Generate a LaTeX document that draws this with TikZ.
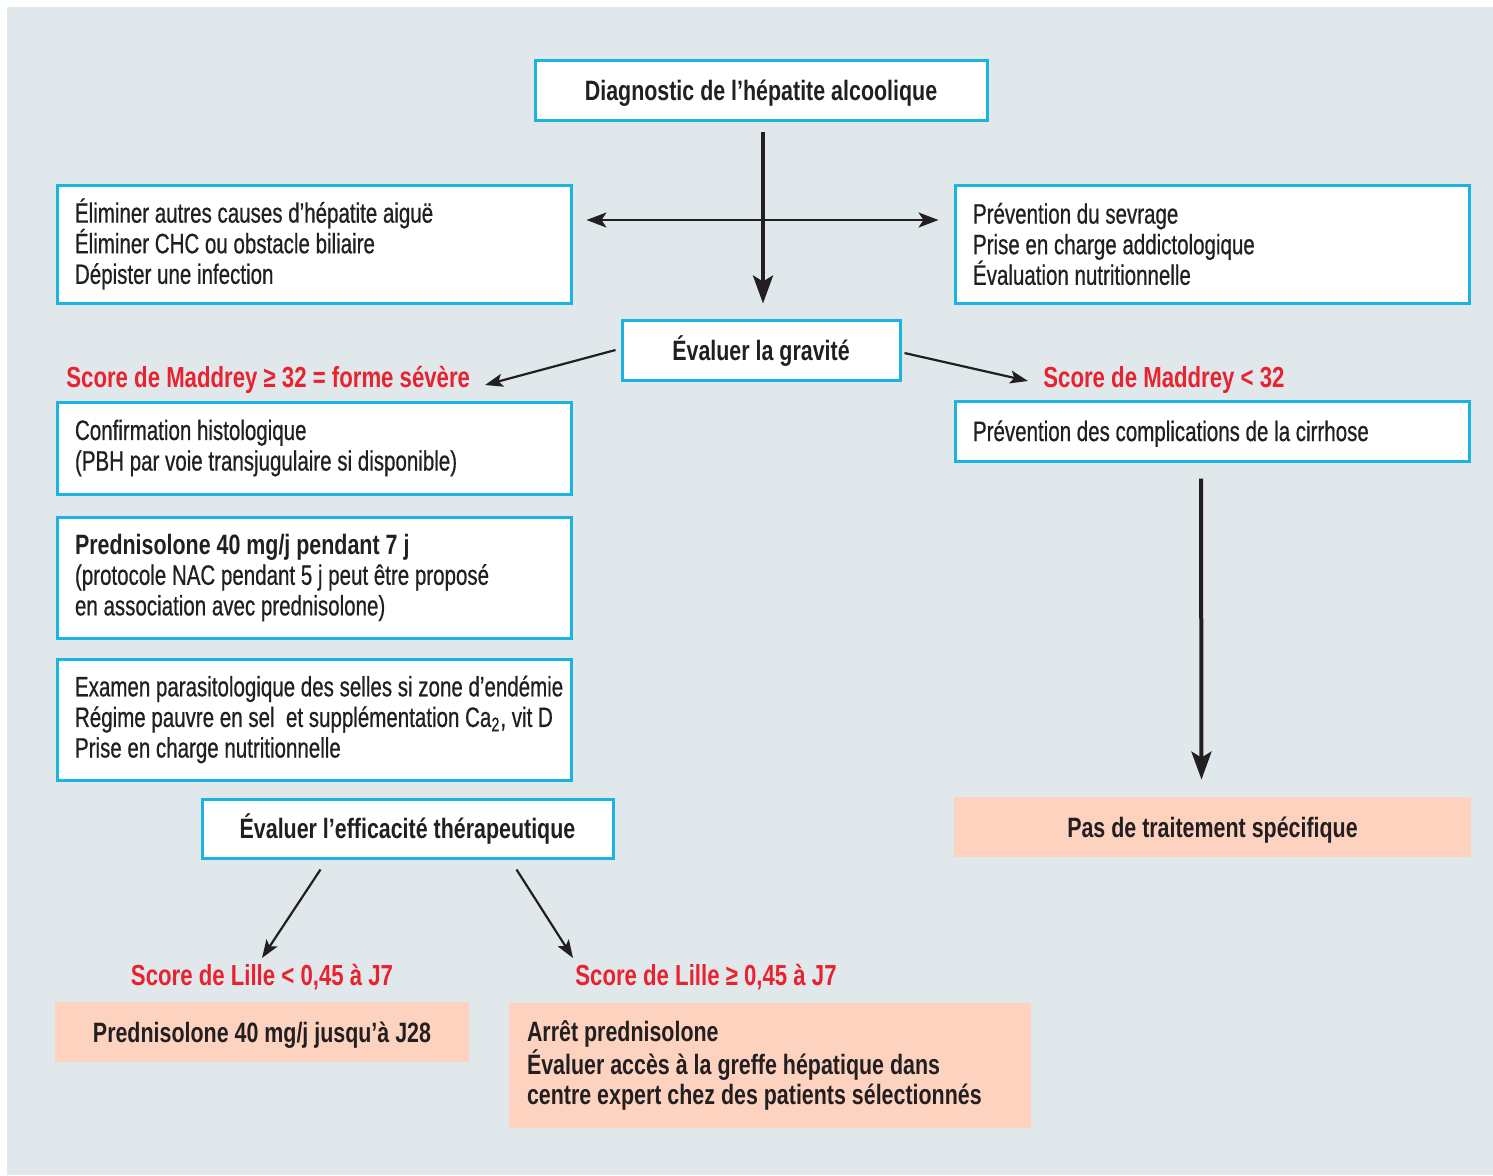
\documentclass[tikz,border=0pt]{standalone}
\usepackage{fontspec}
\setmainfont[FakeStretch=0.733,FakeBold=0.6,
  BoldFeatures={FakeStretch=0.765,FakeBold=0}]{Liberation Sans}
\usetikzlibrary{arrows.meta}
\definecolor{panel}{HTML}{E1E8EC}
\definecolor{frame}{HTML}{1BB4E1}
\definecolor{salmon}{HTML}{FDD3C0}
\definecolor{alert}{HTML}{E8222E}
\definecolor{ink}{HTML}{231F20}

\begin{document}
\begin{tikzpicture}[x=0.5pt,y=-0.5pt,
  every node/.style={text=ink, font=\fontsize{14pt}{15.3pt}\selectfont,
    execute at begin node={\spaceskip=0pt\xspaceskip=0pt\relax}},
  box/.style={draw=frame, line width=1.5pt, fill=white, inner xsep=9pt, inner ysep=0pt, align=left},
  oneline/.style={text height=10pt, text depth=0pt},
  titlebox/.style={draw=frame, line width=1.5pt, fill=white, inner sep=0pt, align=center, oneline,
    font=\fontsize{14pt}{15.3pt}\selectfont\bfseries},
  result/.style={fill=salmon, inner xsep=9pt, inner ysep=0pt,
    font=\fontsize{14pt}{15.3pt}\selectfont\bfseries},
  score/.style={text=alert, inner sep=0pt, font=\fontsize{14.5pt}{17pt}\selectfont\bfseries},
  bigarrow/.style={draw=ink, line width=2pt, -{Stealth[length=14pt,width=10pt,inset=3pt]}},
  smallarrow/.style={draw=ink, line width=1.1pt, -{Stealth[length=9pt,width=6.5pt,inset=2pt]}},
]
% background
\fill[white] (0,0) rectangle (1493,1175);
\fill[panel] (7,7) rectangle (1493,1175);
\useasboundingbox (0,0) rectangle (1493,1175);

% top
\node[titlebox, minimum width=226pt, minimum height=30pt] (diag) at (761,90)
  {Diagnostic de l’hépatite alcoolique};
\node[box, minimum width=257pt, minimum height=59pt, text width=239pt] (elim) at (314,244)
  {Éliminer autres causes d’hépatite aiguë\\Éliminer CHC ou obstacle biliaire\\Dépister une infection};
\node[box, minimum width=257pt, minimum height=59pt, text width=239pt] (prev) at (1212,244)
  {Prévention du sevrage\\Prise en charge addictologique\\Évaluation nutritionnelle};
\node[titlebox, minimum width=139pt, minimum height=30pt] (grav) at (761,350)
  {Évaluer la gravité};

% severity branches
\node[score, anchor=base west] (maddL) at (66,387) {Score de Maddrey ≥ 32 = forme sévère};
\node[score, anchor=base west] (maddR) at (1043,387) {Score de Maddrey < 32};
\coordinate (mL) at (485,385);
\coordinate (mR) at (1028,381);

% left column
\node[box, minimum width=257pt, minimum height=46pt, text width=239pt] (conf) at (314,448)
  {Confirmation histologique\\(PBH par voie transjugulaire si disponible)};
\node[box, minimum width=257pt, minimum height=60.5pt, text width=239pt] (pred) at (314,577.5)
  {\textbf{Prednisolone 40 mg/j pendant 7 j}\\(protocole NAC pendant 5 j peut être proposé\\en association avec prednisolone)};
\node[box, minimum width=257pt, minimum height=60.5pt, text width=239pt] (exam) at (314,719.5)
  {\mbox{Examen parasitologique des selles si zone d’endémie}\\\mbox{Régime pauvre en sel \ et supplémentation Ca\textsubscript{2}, vit D}\\Prise en charge nutritionnelle};
\node[titlebox, minimum width=205.5pt, minimum height=29.5pt] (effic) at (407.5,828.5)
  {Évaluer l’efficacité thérapeutique};

% right column
\node[box, oneline, minimum width=257pt, minimum height=30pt, text width=239pt] (prevc) at (1212,431)
  {Prévention des complications de la cirrhose};
\node[result, oneline, minimum width=258.5pt, minimum height=30pt] (pas) at (1212.5,827)
  {Pas de traitement spécifique};

% response to treatment
\node[score, anchor=base] (lilleL) at (262,985) {Score de Lille < 0,45 à J7};
\node[score, anchor=base] (lilleR) at (706,985) {Score de Lille ≥ 0,45 à J7};
\node[result, oneline, minimum width=207pt, minimum height=30pt] (j28) at (262,1032)
  {Prednisolone 40 mg/j jusqu’à J28};
\node[result, minimum width=261pt, minimum height=62.5pt, text width=243pt, align=left] (arret) at (770,1065.5)
  {Arrêt prednisolone\\Évaluer accès à la greffe hépatique dans\\centre expert chez des patients sélectionnés};
\coordinate (lL) at (262,958);
\coordinate (lR) at (573,958);

% connectors
\draw[bigarrow] ([xshift=1pt,yshift=-5pt]diag.south) -- ([xshift=1pt,yshift=7.5pt]grav.north);
\draw[draw=ink, line width=1.1pt, {Stealth[length=10pt,width=7.5pt,inset=2.5pt]}-{Stealth[length=10pt,width=7.5pt,inset=2.5pt]}]
  ([xshift=7pt,yshift=12pt]elim.east) -- ([xshift=-7.5pt,yshift=12pt]prev.west);
\draw[smallarrow] ([xshift=-2.5pt]grav.west) -- (mL);
\draw[smallarrow] ([xshift=1.5pt,yshift=-1.5pt]grav.east) -- (mR);
\draw[bigarrow] ([xshift=-5.5pt,yshift=-8pt]prevc.south) -- ([xshift=-5.5pt,yshift=8.5pt]pas.north);
\draw[smallarrow] ([xshift=-43.5pt,yshift=-5pt]effic.south) -- (lL);
\draw[smallarrow] ([xshift=54.5pt,yshift=-5pt]effic.south) -- (lR);
\end{tikzpicture}
\end{document}
